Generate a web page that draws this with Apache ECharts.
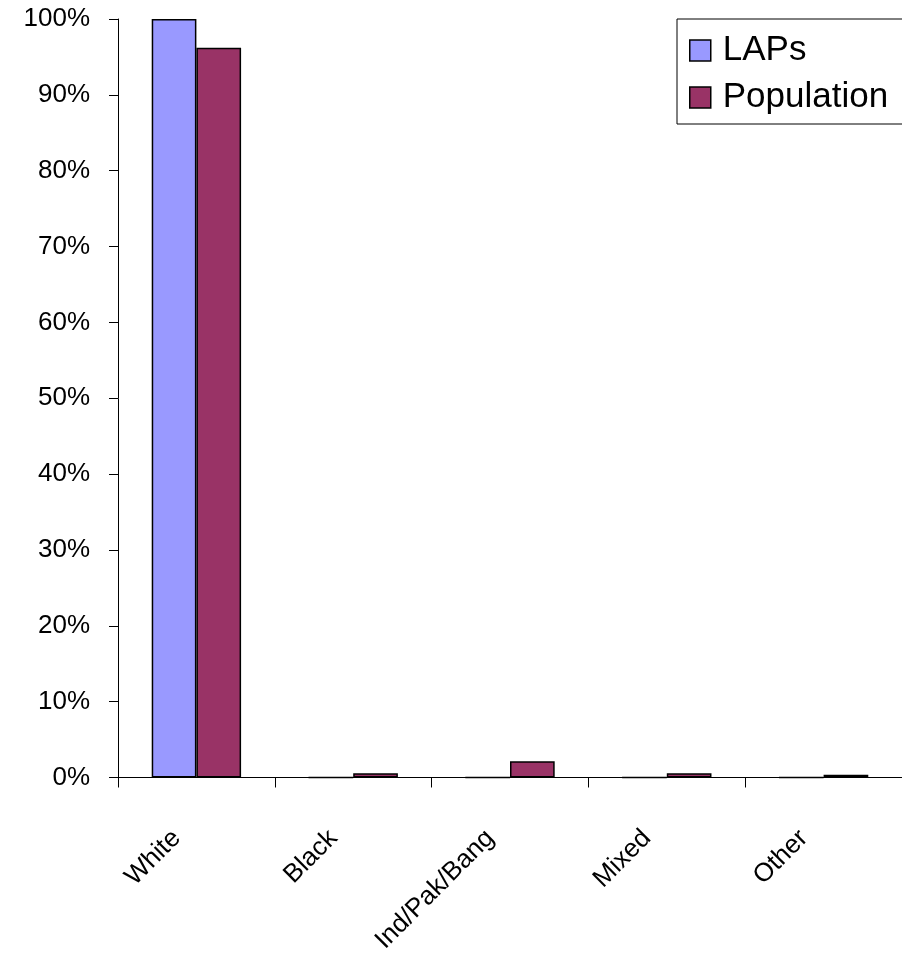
<!DOCTYPE html>
<html>
<head>
<meta charset="utf-8">
<script src="https://cdn.jsdelivr.net/npm/echarts@6/dist/echarts.min.js"></script>
<style>
html,body{margin:0;padding:0;background:#fff;}
#chart{width:902px;height:956px;}
</style>
</head>
<body>
<div id="chart"></div>
<script>
const categories = ['White', 'Black', 'Ind/Pak/Bang', 'Mixed', 'Other'];
const lapsValues = [100, 0, 0, 0, 0];
const populationValues = [96.2, 0.57, 2.15, 0.57, 0.35];
const seriesNames = ['LAPs', 'Population'];

const chart = echarts.init(document.getElementById('chart'), null, {renderer: 'canvas'});
const font = 'Liberation Sans, Arial, sans-serif';
chart.setOption({
  backgroundColor: '#ffffff',
  animation: false,
  grid: {left: 118, top: 19, width: 791, height: 760, containLabel: false},
  legend: {
    data: seriesNames,
    orient: 'vertical',
    left: 677,
    top: 19,
    width: 260,
    padding: [14, 40, 9, 12],
    itemGap: 12,
    itemWidth: 21,
    itemHeight: 21,
    backgroundColor: '#ffffff',
    borderColor: '#000',
    borderWidth: 1,
    icon: 'rect',
    itemStyle: {borderColor: '#000', borderWidth: 1.5},
    textStyle: {fontFamily: font, fontSize: 35, lineHeight: 35, color: '#000', padding: [0, 0, 0, 7]}
  },
  xAxis: {
    type: 'category',
    data: categories,
    boundaryGap: true,
    axisLine: {lineStyle: {color: '#000', width: 1}},
    axisTick: {show: true, length: 10, interval: 0, lineStyle: {color: '#000'}},
    axisLabel: {rotate: 45, interval: 0, margin: 37, padding: [0, 28, 0, 0], fontFamily: font, fontSize: 26, color: '#000'},
    splitLine: {show: false}
  },
  yAxis: {
    type: 'value',
    min: 0,
    max: 100,
    interval: 10,
    axisLine: {show: true, lineStyle: {color: '#000', width: 1}},
    axisTick: {show: true, length: 9, lineStyle: {color: '#000'}},
    axisLabel: {formatter: '{value}%', margin: 28, fontFamily: font, fontSize: 26, color: '#000'},
    splitLine: {show: false}
  },
  series: [
    {
      name: seriesNames[0],
      type: 'bar',
      data: lapsValues,
      barGap: '0%',
      barCategoryGap: '43%',
      itemStyle: {color: '#9999FF', borderColor: '#000', borderWidth: 1.5}
    },
    {
      name: seriesNames[1],
      type: 'bar',
      data: populationValues,
      barGap: '0%',
      barCategoryGap: '43%',
      itemStyle: {color: '#993366', borderColor: '#000', borderWidth: 1.5}
    }
  ]
});
</script>
</body>
</html>
